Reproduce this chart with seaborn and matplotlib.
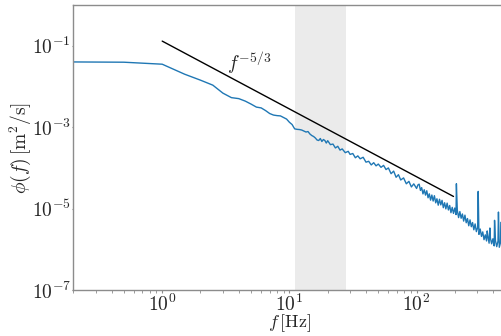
import numpy as np
import pandas as pd
import matplotlib
matplotlib.use("Agg")
import matplotlib.pyplot as plt
import matplotlib.ticker as mticker
import seaborn as sns

# Velocity spectrum phi(f) [m^2/s] against frequency f [Hz], in three ranges
freq_low = [
    0.2, 0.5, 1.0, 1.5, 2.0, 2.5, 3.0, 3.5, 4.0, 4.5, 5.0, 5.5, 6.0, 6.5, 7.0,
    7.5, 8.0, 8.5, 9.0, 9.5, 10.0, 10.5, 11.0, 11.5, 12.0, 12.5, 13.0, 13.5,
    14.0, 14.5, 15.0, 15.5, 16.0, 16.5, 17.0, 17.5, 18.0, 18.5, 19.0, 19.5,
]
phi_low = [
    4.00e-2, 3.94e-2, 3.52e-2, 2.00e-2, 1.426e-2, 1.076e-2, 6.85e-3, 5.31e-3,
    5.02e-3, 4.36e-3, 3.68e-3, 3.11e-3, 2.97e-3, 2.55e-3, 2.16e-3, 1.98e-3,
    1.92e-3, 1.89e-3, 1.72e-3, 1.58e-3, 1.32e-3, 1.16e-3, 9.08e-4, 8.83e-4,
    8.73e-4, 8.49e-4, 8.02e-4, 7.59e-4, 7.80e-4, 6.78e-4, 6.22e-4, 5.89e-4,
    5.41e-4, 4.83e-4, 4.70e-4, 5.26e-4, 4.44e-4, 4.97e-4, 4.70e-4, 4.07e-4,
]

freq_mid = [
    20, 21, 22, 23, 24, 25, 26, 27.5, 29, 30, 31.5, 33, 34.5, 36, 38, 40, 42,
    44, 46, 48, 50, 52.5, 55, 57.5, 60, 63, 66, 69, 72, 75, 79, 83, 87, 91, 95,
]
phi_mid = [
    4.65e-4, 3.72e-4, 3.84e-4, 3.08e-4, 3.39e-4, 2.73e-4, 2.92e-4, 2.36e-4,
    2.55e-4, 2.14e-4, 2.25e-4, 1.77e-4, 1.97e-4, 1.67e-4, 1.82e-4, 1.38e-4,
    1.45e-4, 1.18e-4, 1.34e-4, 1.12e-4, 1.24e-4, 1.03e-4, 1.15e-4, 9.08e-5,
    9.95e-5, 7.19e-5, 8.32e-5, 5.87e-5, 6.79e-5, 5.04e-5, 5.66e-5, 4.06e-5,
    4.66e-5, 3.40e-5, 4.04e-5,
]

# High-frequency range, including the narrow peaks
freq_high = [
    100.0, 102.3, 104.7, 107.2, 109.6, 112.2, 114.8, 117.5, 120.2, 123.0,
    125.9, 128.8, 131.8, 134.9, 138.0, 141.3, 144.5, 147.9, 151.4, 154.9,
    158.5, 162.2, 166.0, 169.8, 173.8, 177.8, 182.0, 186.2, 190.5, 195.0,
    199.5, 204.2, 205.5, 208.9, 213.8, 218.8, 223.9, 229.1, 234.4, 239.9,
    245.5, 251.2, 257.0, 263.0, 269.2, 275.4, 281.8, 288.4, 295.1, 302.0,
    305.0, 309.0, 316.2, 323.6, 331.1, 338.8, 346.7, 354.8, 359.0, 363.1,
    371.5, 377.0, 380.2, 389.0, 398.1, 407.4, 410.0, 416.9, 426.6, 436.5,
    440.0, 446.7, 457.1, 463.0, 467.7, 478.6, 489.8, 501.2,
]
phi_high = [
    3.12e-5, 3.80e-5, 3.98e-5, 2.79e-5, 3.27e-5, 2.29e-5, 2.90e-5, 2.14e-5,
    2.74e-5, 1.84e-5, 2.30e-5, 1.61e-5, 2.15e-5, 1.53e-5, 2.07e-5, 1.38e-5,
    1.74e-5, 1.21e-5, 1.69e-5, 1.23e-5, 1.59e-5, 1.05e-5, 1.39e-5, 9.82e-6,
    1.36e-5, 9.23e-6, 1.19e-5, 7.91e-6, 1.07e-5, 7.60e-6, 1.03e-5, 7.11e-6,
    4.07e-5, 9.12e-6, 6.00e-6, 8.45e-6, 5.78e-6, 7.36e-6, 4.92e-6, 6.89e-6,
    4.48e-6, 5.69e-6, 3.78e-6, 5.27e-6, 3.58e-6, 4.54e-6, 3.01e-6, 4.19e-6,
    2.71e-6, 3.43e-6, 2.64e-5, 2.32e-6, 3.14e-6, 2.07e-6, 2.67e-6, 1.72e-6,
    2.26e-6, 1.60e-6, 2.82e-6, 2.14e-6, 1.41e-6, 3.33e-6, 1.89e-6, 1.36e-6,
    1.81e-6, 1.21e-6, 5.14e-6, 1.61e-6, 1.16e-6, 1.60e-6, 8.20e-6, 1.12e-6,
    1.48e-6, 4.67e-6, 1.01e-6, 1.36e-6, 9.82e-7, 1.29e-6,
]

# Kolmogorov -5/3 reference slope
ref_coef = 0.13
ref_f = np.array([1.0, 195.0])
ref_phi = ref_coef * ref_f ** (-5.0 / 3.0)

# Shaded frequency band
band = (11.0, 28.0)

sns.set_style("white")
plt.rcParams["mathtext.fontset"] = "cm"
plt.rcParams["font.family"] = ["DejaVu Serif"]

fig = plt.figure(figsize=(5.02, 3.36), dpi=100)
ax = fig.add_axes([0.146, 0.137, 0.861, 0.848])

ax.axvspan(*band, color="#ebebeb", lw=0, zorder=0)

spec = pd.DataFrame({
    "f": freq_low + freq_mid + freq_high,
    "phi": phi_low + phi_mid + phi_high,
})
sns.lineplot(data=spec, x="f", y="phi", ax=ax, color="#1f77b4", lw=1.0,
             sort=False, estimator=None, zorder=2)
sns.lineplot(x=ref_f, y=ref_phi, ax=ax, color="black", lw=1.0,
             sort=False, estimator=None, zorder=3)

ax.set_xscale("log")
ax.set_yscale("log")
ax.set_xlim(0.2, 500)
ax.set_ylim(1e-7, 1)

ax.text(4.8, 0.038, r"$f^{-5/3}$", fontsize=14, ha="center", va="center")

fmt = mticker.FuncFormatter(lambda v, p: r"$10^{%d}$" % int(round(np.log10(v))))
ax.xaxis.set_major_locator(mticker.FixedLocator([1, 10, 100]))
ax.xaxis.set_minor_locator(mticker.LogLocator(base=10, subs=np.arange(2, 10), numticks=20))
ax.xaxis.set_major_formatter(fmt)
ax.xaxis.set_minor_formatter(mticker.NullFormatter())
ax.yaxis.set_major_locator(mticker.FixedLocator([1e-7, 1e-5, 1e-3, 1e-1]))
ax.yaxis.set_minor_locator(mticker.NullLocator())
ax.yaxis.set_major_formatter(fmt)

ax.tick_params(axis="x", which="major", direction="out", length=2.5, width=0.8,
               color="0.55", labelsize=14, pad=0.0, bottom=True)
ax.tick_params(axis="x", which="minor", direction="out", length=1.8, width=0.6,
               color="0.55", bottom=True)
ax.tick_params(axis="y", which="major", direction="out", length=1.0, width=0.8,
               color="0.55", labelsize=14, pad=0.5, left=True)

for s in ax.spines.values():
    s.set_color("0.55")
    s.set_linewidth(1.0)

ax.set_xlabel(r"$f\,[\mathrm{Hz}]$", fontsize=13)
ax.set_ylabel(r"$\phi(f)\,[\mathrm{m}^2/\mathrm{s}]$", fontsize=14)
ax.xaxis.set_label_coords(0.5, -0.080)
ax.yaxis.set_label_coords(-0.093, 0.5)

fig.savefig("out.png", dpi=100)
